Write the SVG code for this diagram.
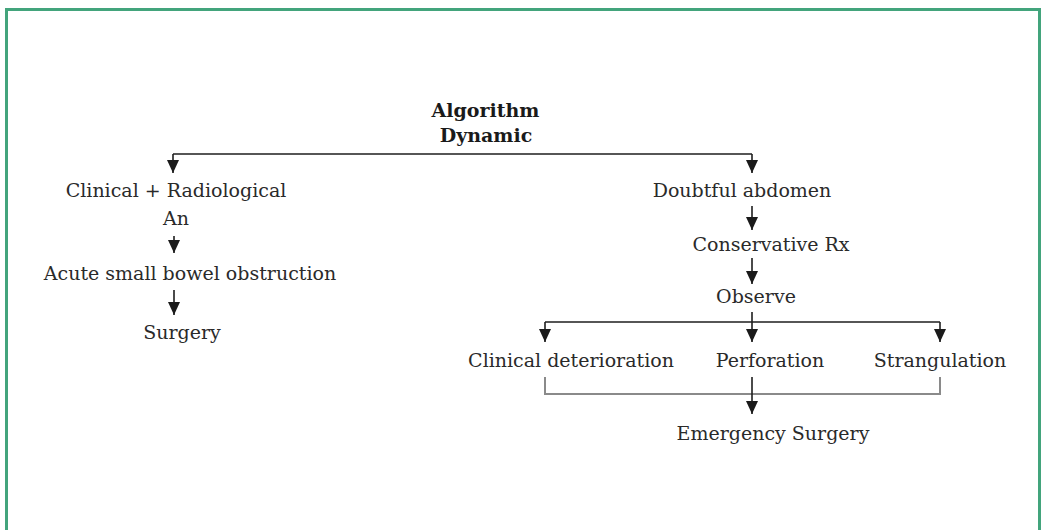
<svg xmlns="http://www.w3.org/2000/svg" width="1041" height="530" viewBox="0 0 1041 530">
  <style>
    .t { font-family: "DejaVu Serif", "Liberation Serif", serif; font-size: 19px; fill: #2a2a2a; text-anchor: middle; }
    .h { font-family: "DejaVu Serif", "Liberation Serif", serif; font-size: 19px; font-weight: bold; fill: #1a1a1a; text-anchor: middle; }
    .ln { stroke: #1e1e1e; stroke-width: 1.6; fill: none; }
    .arr { stroke: #1e1e1e; stroke-width: 1.6; fill: none; marker-end: url(#tip); }
    .br { stroke: #8a8a8a; stroke-width: 2; fill: none; }
  </style>
  <defs>
    <marker id="tip" markerUnits="userSpaceOnUse" viewBox="0 -7 14 14" refX="13" refY="0" markerWidth="14" markerHeight="14" orient="auto">
      <path d="M0,-6 L13,0 L0,6 z" fill="#1a1a1a"/>
    </marker>
  </defs>

  <rect width="1041" height="530" fill="#ffffff"/>
  <!-- frame (open at the bottom edge) -->
  <rect x="6.5" y="9.5" width="1033" height="540" fill="none" stroke="#43a47c" stroke-width="3"/>

  <g id="title">
    <text class="h" x="485.5" y="117">Algorithm</text>
    <text class="h" x="486" y="142">Dynamic</text>
  </g>

  <g id="clinical-radiological">
    <text class="t" x="176" y="197">Clinical + Radiological</text>
    <text class="t" x="176" y="225">An</text>
  </g>
  <g id="acute-sbo">
    <text class="t" x="190" y="280">Acute small bowel obstruction</text>
  </g>
  <g id="surgery">
    <text class="t" x="182" y="339">Surgery</text>
  </g>

  <g id="doubtful-abdomen">
    <text class="t" x="742" y="197">Doubtful abdomen</text>
  </g>
  <g id="conservative-rx">
    <text class="t" x="771" y="251">Conservative Rx</text>
  </g>
  <g id="observe">
    <text class="t" x="756" y="303">Observe</text>
  </g>
  <g id="clinical-deterioration">
    <text class="t" x="571" y="367">Clinical deterioration</text>
  </g>
  <g id="perforation">
    <text class="t" x="770" y="367">Perforation</text>
  </g>
  <g id="strangulation">
    <text class="t" x="940" y="367">Strangulation</text>
  </g>
  <g id="emergency-surgery">
    <text class="t" x="773" y="440">Emergency Surgery</text>
  </g>

  <g id="connectors">
    <!-- top split -->
    <path class="ln" d="M173,154 H752"/>
    <path class="arr" d="M173,154 V173"/>
    <path class="arr" d="M752,154 V173"/>
    <!-- left column -->
    <path class="arr" d="M174,236 V253"/>
    <path class="arr" d="M174,290 V315"/>
    <!-- right column -->
    <path class="arr" d="M752,206 V230"/>
    <path class="arr" d="M752,258 V284"/>
    <!-- three-way split after observation -->
    <path class="ln" d="M752,312 V322"/>
    <path class="ln" d="M545,322 H940"/>
    <path class="arr" d="M545,322 V342"/>
    <path class="arr" d="M752,322 V342"/>
    <path class="arr" d="M940,322 V342"/>
    <!-- merge into emergency surgery -->
    <path class="br" d="M545,377 V394 H940 V377"/>
    <path class="arr" d="M752,377 V414"/>
  </g>
</svg>
